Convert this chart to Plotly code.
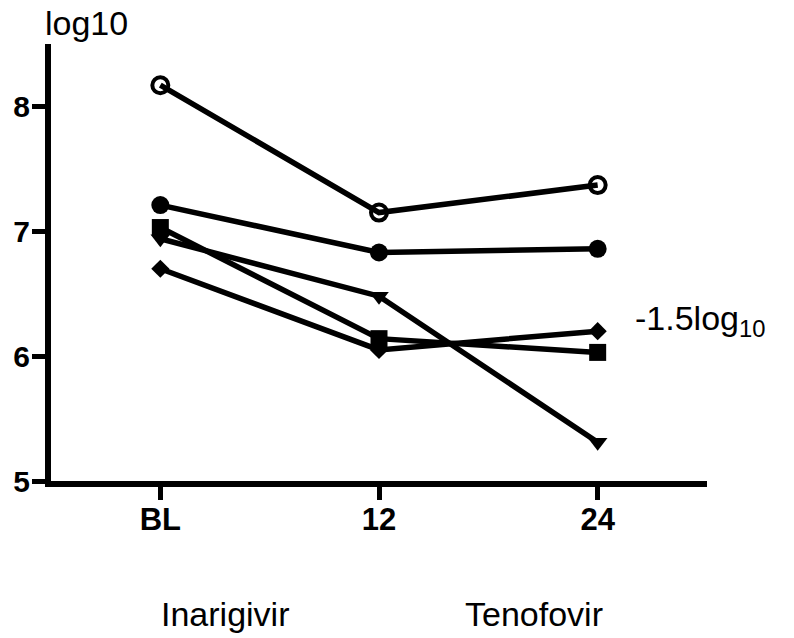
import plotly.graph_objects as go

categories = ["BL", "12", "24"]
open_circle = [8.17, 7.15, 7.37]
filled_circle = [7.21, 6.83, 6.86]
square = [7.03, 6.14, 6.03]
tri_down = [6.94, 6.48, 5.31]
diamond = [6.70, 6.05, 6.20]
y_ticks = [5, 6, 7, 8]

W, H = 794, 638
L, R, T, B = 51, 87, 44, 157
PW, PH = W - L - R, H - T - B


def px(x):
    return (x - L) / PW


def py(y):
    return (H - B - y) / PH


xs = list(range(len(categories)))
fig = go.Figure()
series = [
    (open_circle, "circle-open", 16, 4),
    (filled_circle, "circle", 18, 0),
    (square, "square", 17, 0),
    (tri_down, "triangle-down", 17, 0),
    (diamond, "diamond", 14, 0),
]
for vals, sym, size, lw in series:
    fig.add_trace(go.Scatter(
        x=xs, y=vals, mode="lines+markers",
        line=dict(color="black", width=5.5),
        marker=dict(symbol=sym, size=size, color="black",
                    line=dict(color="black", width=lw)),
        showlegend=False, hoverinfo="skip",
    ))

font_fam = "Liberation Sans, Arial, sans-serif"
fig.update_layout(
    width=W, height=H,
    margin=dict(l=L, r=R, t=T, b=B),
    paper_bgcolor="white", plot_bgcolor="white",
    xaxis=dict(range=[-0.5, 2.5], tickmode="array", tickvals=xs, ticktext=categories,
               showline=True, linewidth=6, linecolor="black", ticks="outside",
               ticklen=13, tickwidth=5, tickcolor="black", showgrid=False, zeroline=False,
               ticklabelstandoff=-7,
               tickfont=dict(family=font_fam, size=31, color="black", weight="bold")),
    yaxis=dict(range=[5, 8.5], tickmode="array", tickvals=y_ticks,
               showline=True, linewidth=6, linecolor="black", ticks="outside",
               ticklen=13, tickwidth=5, tickcolor="black", showgrid=False, zeroline=False,
               ticklabelstandoff=-4,
               tickfont=dict(family=font_fam, size=30, color="black", weight="bold")),
    font=dict(family=font_fam, color="black"),
    annotations=[
        dict(text="log10", x=px(43), y=py(23), xref="paper", yref="paper",
             xanchor="left", yanchor="middle", showarrow=False, font=dict(size=34)),
        dict(text="-1.5log<sub>10</sub>", x=px(633), y=py(320), xref="paper", yref="paper",
             xanchor="left", yanchor="middle", showarrow=False, font=dict(size=34)),
        dict(text="Inarigivir", x=px(225), y=py(614), xref="paper", yref="paper",
             xanchor="center", yanchor="middle", showarrow=False, font=dict(size=34)),
        dict(text="Tenofovir", x=px(534), y=py(614), xref="paper", yref="paper",
             xanchor="center", yanchor="middle", showarrow=False, font=dict(size=34)),
    ],
)
fig.write_html("out.html", config={"displayModeBar": False},
               post_script="document.body.style.margin='0';document.body.style.overflow='hidden';")
